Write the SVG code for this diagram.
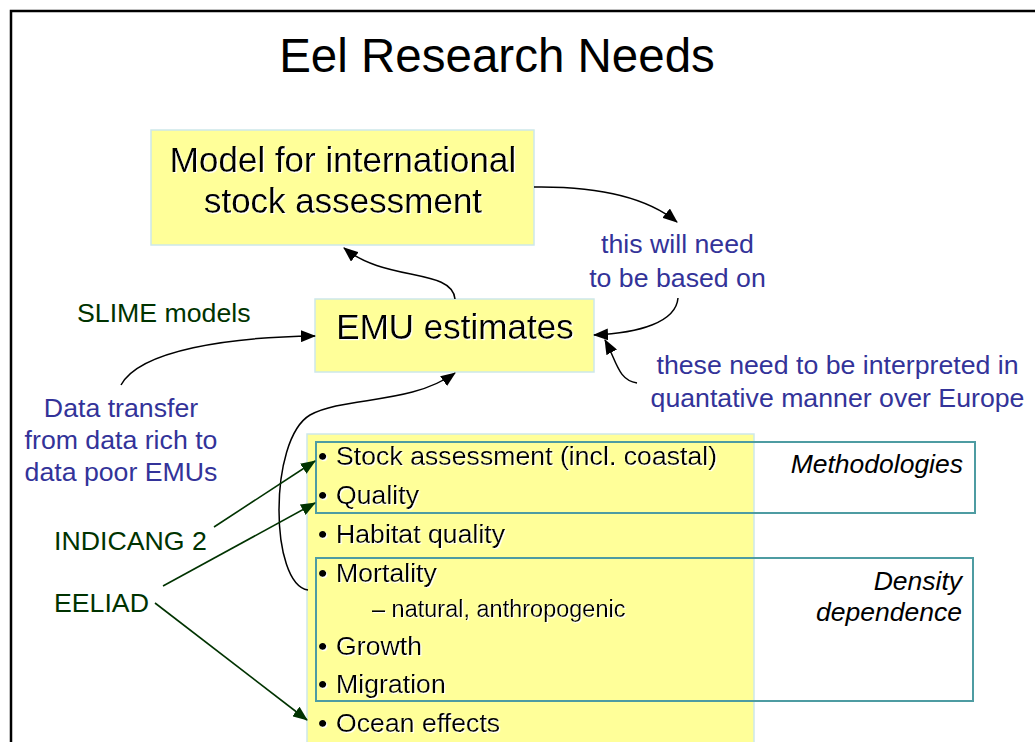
<svg xmlns="http://www.w3.org/2000/svg" width="1035" height="742" viewBox="0 0 1035 742">
<style>
  text { font-family: "Liberation Sans", Arial, sans-serif; }
  .box { fill: #FFFF99; stroke: #CDE8EA; stroke-width: 1.5; }
  .grp { fill: none; stroke: #4E9CA2; stroke-width: 2; }
  .k { fill: #000; }
  .shd { filter: url(#ws); }
  .blue { fill: #333399; font-size: 26.7px; }
  .green { fill: #003300; font-size: 26.7px; }
  .li { font-size: 26.7px; fill: #000; }
  .it { font-style: italic; font-size: 26.5px; fill: #000; text-anchor: end; }
  .cb { fill: none; stroke: #000; stroke-width: 1.5; marker-end: url(#ab); }
  .cg { fill: none; stroke: #003300; stroke-width: 1.6; marker-end: url(#ag); }
</style>
<defs>
  <filter id="ws" x="-5%" y="-20%" width="110%" height="140%">
    <feDropShadow dx="1.2" dy="1.2" stdDeviation="0" flood-color="#FFFFFF" flood-opacity="1"/>
  </filter>
  <marker id="ab" viewBox="0 0 15 12" refX="14" refY="6" markerWidth="15" markerHeight="12" markerUnits="userSpaceOnUse" orient="auto">
    <path d="M0,0 L15,6 L0,12 Z" fill="#000"/>
  </marker>
  <marker id="ag" viewBox="0 0 15 12" refX="14" refY="6" markerWidth="15" markerHeight="12" markerUnits="userSpaceOnUse" orient="auto">
    <path d="M0,0 L15,6 L0,12 Z" fill="#003300"/>
  </marker>
</defs>
<rect x="0" y="0" width="1035" height="742" fill="#FFFFFF"/>
<rect x="11" y="11" width="1100" height="800" fill="none" stroke="#000" stroke-width="2.5"/>

<g id="title">
  <text x="497" y="72" text-anchor="middle" font-size="47.5" fill="#000">Eel Research Needs</text>
</g>

<g id="model-box">
  <rect class="box" x="151" y="130" width="383" height="115"/>
  <text class="k shd" x="343" y="172" text-anchor="middle" font-size="35">Model for international</text>
  <text class="k shd" x="343" y="213" text-anchor="middle" font-size="35">stock assessment</text>
</g>

<g id="emu-box">
  <rect class="box" x="315" y="299" width="279" height="73"/>
  <text class="k shd" x="455" y="339" text-anchor="middle" font-size="35">EMU estimates</text>
</g>

<g id="research-list">
  <rect class="box" x="307" y="434" width="447" height="330"/>
  <g class="li shd">
    <text x="318" y="465">•</text><text x="336" y="465">Stock assessment (incl. coastal)</text>
    <text x="318" y="504">•</text><text x="336" y="504">Quality</text>
    <text x="318" y="543">•</text><text x="336" y="543">Habitat quality</text>
    <text x="318" y="582">•</text><text x="336" y="582">Mortality</text>
    <text x="372" y="617" font-size="23.5">– natural, anthropogenic</text>
    <text x="318" y="655">•</text><text x="336" y="655">Growth</text>
    <text x="318" y="693">•</text><text x="336" y="693">Migration</text>
    <text x="318" y="732">•</text><text x="336" y="732">Ocean effects</text>
  </g>
</g>

<g id="methodologies">
  <rect class="grp" x="316" y="442" width="659" height="71"/>
  <text class="it" x="963" y="473">Methodologies</text>
</g>

<g id="density-dependence">
  <rect class="grp" x="316" y="558" width="657" height="143"/>
  <text class="it" x="962" y="590">Density</text>
  <text class="it" x="962" y="621">dependence</text>
</g>

<g id="label-slime">
  <text class="green" x="77" y="322">SLIME models</text>
</g>
<g id="label-data-transfer">
  <text class="blue" x="121" y="417" text-anchor="middle">Data transfer</text>
  <text class="blue" x="121" y="449" text-anchor="middle">from data rich to</text>
  <text class="blue" x="121" y="481" text-anchor="middle">data poor EMUs</text>
</g>
<g id="label-indicang">
  <text class="green" x="54" y="550">INDICANG 2</text>
</g>
<g id="label-eeliad">
  <text class="green" x="54" y="612">EELIAD</text>
</g>
<g id="label-based-on">
  <text class="blue" x="677.5" y="253" text-anchor="middle">this will need</text>
  <text class="blue" x="677.5" y="287" text-anchor="middle">to be based on</text>
</g>
<g id="label-interpreted">
  <text class="blue" x="837.5" y="374" text-anchor="middle">these need to be interpreted in</text>
  <text class="blue" x="837.5" y="407" text-anchor="middle">quantative manner over Europe</text>
</g>

<g id="connectors">
  <path class="cb" d="M534,187 C605,186 650,200 677,222"/>
  <path class="cb" d="M678,298 C676,322 640,333 594,335"/>
  <path class="cb" d="M637,383 C618,380 617,362 605,340"/>
  <path class="cb" d="M455,299 C452,268 385,282 344,248"/>
  <path class="cb" d="M121,385 C140,350 230,337 315,336"/>
  <path class="cb" d="M308,590 C270,585 268,440 310,415 C345,396 410,405 455,373"/>
  <path class="cg" d="M214,527 L315,461"/>
  <path class="cg" d="M163,586 L315,503"/>
  <path class="cg" d="M155,603 L307,720"/>
</g>
</svg>
